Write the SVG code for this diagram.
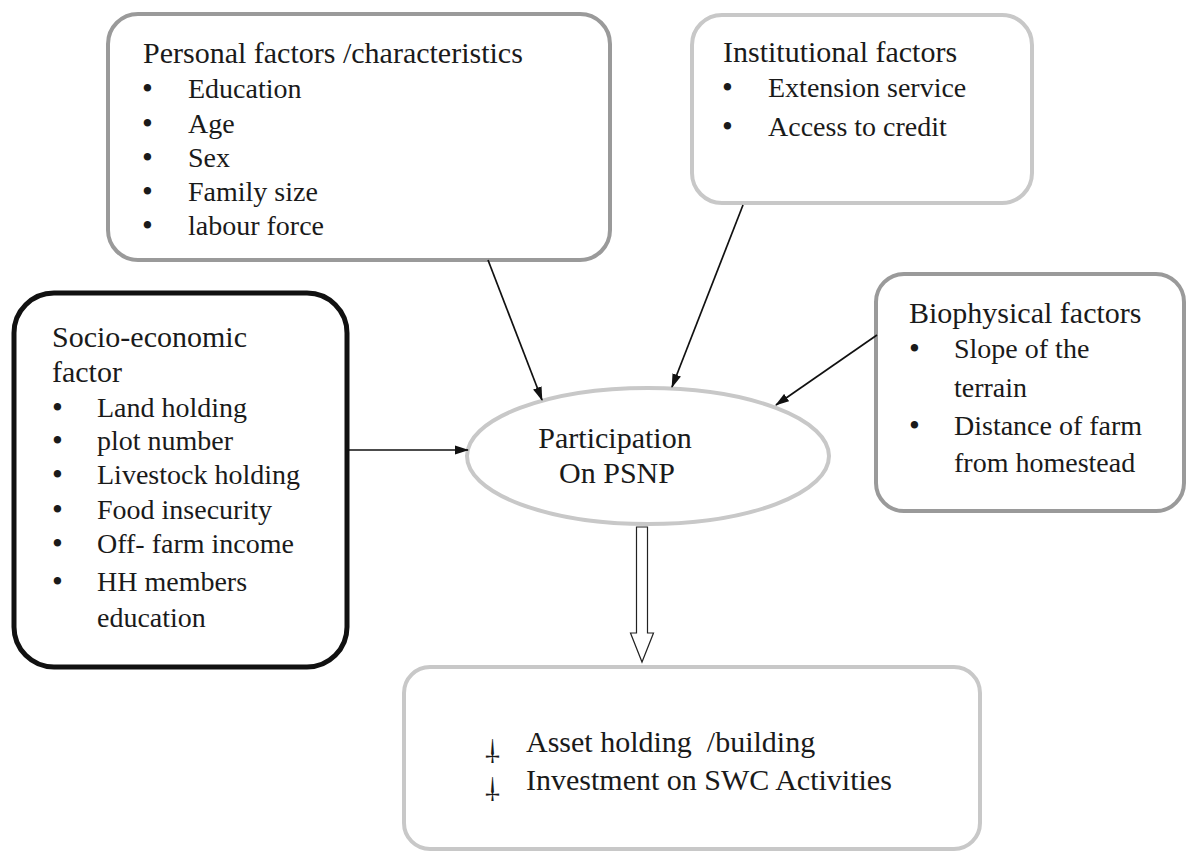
<svg xmlns="http://www.w3.org/2000/svg" width="1187" height="855" viewBox="0 0 1187 855">
<style>
.t{fill:#1a1a1a}
.h{font-size:30px}
.b{font-size:31px}
.box{fill:#fff}
.g1{stroke:#9a9a9a;stroke-width:4}
.g2{stroke:#c8c8c8;stroke-width:4}
.blk{stroke:#111;stroke-width:5}
.con{stroke:#111;stroke-width:1.7;fill:none}
.mid{text-anchor:middle}
</style>
<defs>
<marker id="ah" viewBox="0 0 14 10" refX="13" refY="5" markerWidth="14" markerHeight="10" markerUnits="userSpaceOnUse" orient="auto">
<path d="M0,0.5 L14,5 L0,9.5 z" fill="#111"/>
</marker>
</defs>
<rect width="1187" height="855" fill="#fff"/>
<g font-family="Liberation Serif, Times New Roman, serif" font-size="28">

<g id="personal">
<rect class="box g1" x="108" y="14" width="502" height="246" rx="30"/>
<text class="t h" x="143" y="63">Personal factors /characteristics</text>
<text class="t b" x="142" y="99">•</text><text class="t" x="188" y="98">Education</text>
<text class="t b" x="142" y="134">•</text><text class="t" x="188" y="133">Age</text>
<text class="t b" x="142" y="168">•</text><text class="t" x="188" y="167">Sex</text>
<text class="t b" x="142" y="202">•</text><text class="t" x="188" y="201">Family size</text>
<text class="t b" x="142" y="236">•</text><text class="t" x="188" y="235">labour force</text>
</g>

<g id="institutional">
<rect class="box g2" x="692" y="15" width="340" height="188" rx="30"/>
<text class="t h" x="723" y="62">Institutional factors</text>
<text class="t b" x="722" y="98">•</text><text class="t" x="768" y="97">Extension service</text>
<text class="t b" x="722" y="137">•</text><text class="t" x="768" y="136">Access to credit</text>
</g>

<g id="biophysical">
<rect class="box g1" x="876" y="274" width="308" height="237" rx="28"/>
<text class="t h" x="909" y="323">Biophysical factors</text>
<text class="t b" x="909" y="359">•</text><text class="t" x="954" y="358">Slope of the</text>
<text class="t" x="954" y="397">terrain</text>
<text class="t b" x="909" y="436">•</text><text class="t" x="954" y="435">Distance of farm</text>
<text class="t" x="954" y="472">from homestead</text>
</g>

<g id="socio">
<rect class="box blk" x="14" y="293" width="333" height="374" rx="40"/>
<text class="t h" x="52" y="347">Socio-economic</text>
<text class="t h" x="52" y="382">factor</text>
<text class="t b" x="52" y="418">•</text><text class="t" x="97" y="417">Land holding</text>
<text class="t b" x="52" y="451">•</text><text class="t" x="97" y="450">plot number</text>
<text class="t b" x="52" y="485">•</text><text class="t" x="97" y="484">Livestock holding</text>
<text class="t b" x="52" y="520">•</text><text class="t" x="97" y="519">Food insecurity</text>
<text class="t b" x="52" y="554">•</text><text class="t" x="97" y="553">Off- farm income</text>
<text class="t b" x="52" y="592">•</text><text class="t" x="97" y="591">HH members</text>
<text class="t" x="97" y="627">education</text>
</g>

<g id="participation">
<ellipse class="box g2" cx="648" cy="456" rx="181" ry="68"/>
<text class="t h mid" x="615" y="448">Participation</text>
<text class="t h mid" x="617" y="483">On PSNP</text>
</g>

<g id="outcome">
<rect class="box g2" x="404" y="667" width="576" height="182" rx="26"/>
<text class="t h" x="482" y="761" transform="rotate(180 491 752)">†</text>
<text class="t h" x="526" y="752" xml:space="preserve">Asset holding  /building</text>
<text class="t h" x="482" y="799" transform="rotate(180 491 790)">†</text>
<text class="t h" x="526" y="790">Investment on SWC Activities</text>
</g>
</g>

<g id="connectors">
<line class="con" x1="488" y1="260" x2="542" y2="400" marker-end="url(#ah)"/>
<line class="con" x1="743" y1="205" x2="672" y2="387" marker-end="url(#ah)"/>
<line class="con" x1="877" y1="335" x2="776" y2="405" marker-end="url(#ah)"/>
<line class="con" x1="347" y1="450" x2="468" y2="450" marker-end="url(#ah)"/>
<path d="M636.5,527 L647.5,527 L647.5,633 L653.5,633 L642,662 L630.5,633 L636.5,633 Z" fill="#fff" stroke="#222" stroke-width="1.2"/>
</g>
</svg>
